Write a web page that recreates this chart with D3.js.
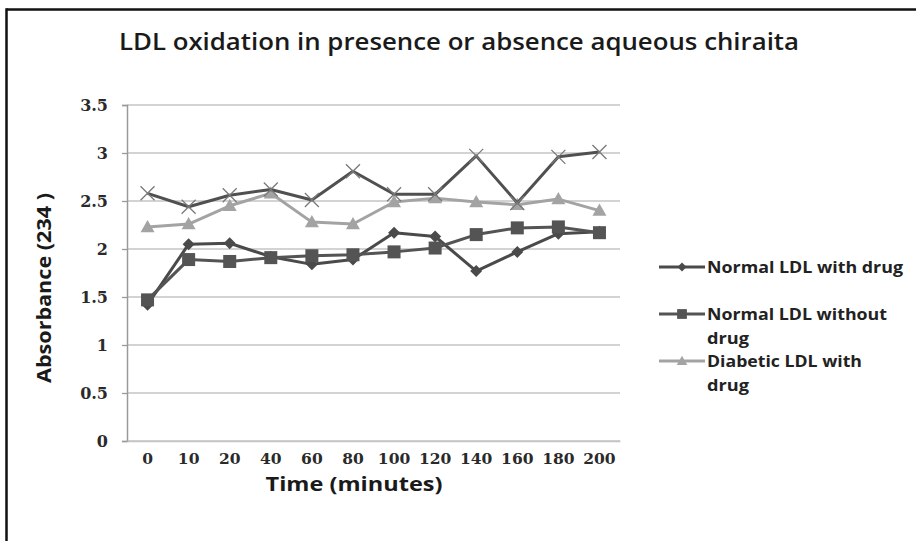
<!DOCTYPE html>
<html>
<head>
<meta charset="utf-8">
<script src="https://cdn.jsdelivr.net/npm/d3@7"></script>
<style>
  html, body { margin: 0; padding: 0; background: #fff; }
  svg { display: block; }
</style>
</head>
<body>
<svg id="chart" width="916" height="541"></svg>
<script>
// Sampling times (minutes) along the x axis
const categories = ["0", "10", "20", "40", "60", "80", "100", "120", "140", "160", "180", "200"];

// Absorbance at 234 nm for each series
const normalWithDrug    = [1.42, 2.05, 2.06, 1.92, 1.84, 1.89, 2.17, 2.13, 1.77, 1.97, 2.16, 2.18];
const normalWithoutDrug = [1.47, 1.89, 1.87, 1.91, 1.93, 1.94, 1.97, 2.01, 2.15, 2.22, 2.23, 2.17];
const diabeticWithDrug  = [2.23, 2.26, 2.45, 2.58, 2.28, 2.26, 2.49, 2.53, 2.49, 2.46, 2.52, 2.40];
const diabeticNoDrug    = [2.58, 2.44, 2.56, 2.62, 2.51, 2.81, 2.57, 2.57, 2.97, 2.48, 2.96, 3.01];

const yTicks = [0, 0.5, 1, 1.5, 2, 2.5, 3, 3.5];

const seriesNames = ["Normal LDL with drug", "Normal LDL without drug", "Diabetic LDL with drug", "Diabetic LDL without drug"];

const series = [
  { name: seriesNames[0], values: normalWithDrug,    color: "#4a4a4a", marker: "diamond",  legend: ["Normal LDL with drug"],       legendW: [196] },
  { name: seriesNames[1], values: normalWithoutDrug, color: "#545454", marker: "square",   legend: ["Normal LDL without", "drug"], legendW: [180, 42] },
  { name: seriesNames[2], values: diabeticWithDrug,  color: "#a3a3a3", marker: "triangle", legend: ["Diabetic LDL with", "drug"],  legendW: [155, 42] },
  { name: seriesNames[3], values: diabeticNoDrug,    color: "#505050", marker: "cross",    legend: null }
];

const svg = d3.select("#chart");
const plot = { left: 127, right: 620, top: 105, bottom: 441 };

const x = d3.scaleBand().domain(categories).range([plot.left, plot.right]);
const y = d3.scaleLinear().domain([0, 3.5]).range([plot.bottom, plot.top]);
const cx = c => x(c) + x.bandwidth() / 2;

const sans = "'Open Sans', 'DejaVu Sans', sans-serif";
const serif = "'DejaVu Serif', serif";

// Frame edges
svg.append("line").attr("x1", 6.5).attr("x2", 916).attr("y1", 9.5).attr("y2", 9.5)
  .attr("stroke", "#111").attr("stroke-width", 2.5);
svg.append("line").attr("x1", 6.5).attr("x2", 6.5).attr("y1", 8.3).attr("y2", 541)
  .attr("stroke", "#111").attr("stroke-width", 2.5);

// Title
svg.append("text")
  .attr("x", 459).attr("y", 50)
  .attr("text-anchor", "middle")
  .attr("font-family", sans)
  .attr("font-size", 23)
  .attr("font-weight", 600)
  .attr("fill", "#1a1a1a")
  .attr("textLength", 680).attr("lengthAdjust", "spacingAndGlyphs")
  .text("LDL oxidation in presence or absence aqueous  chiraita");

// Horizontal gridlines
svg.append("g").selectAll("line").data(yTicks).join("line")
  .attr("x1", plot.left).attr("x2", plot.right)
  .attr("y1", d => y(d)).attr("y2", d => y(d))
  .attr("stroke", "#c4c4c4").attr("stroke-width", 1.6);

// Y axis
const yAxis = svg.append("g")
  .attr("transform", `translate(${plot.left},0)`)
  .call(d3.axisLeft(y).tickValues(yTicks).tickSize(5).tickPadding(14).tickFormat(d3.format("")));
yAxis.select(".domain").attr("stroke", "#9a9a9a").attr("stroke-width", 1.5);
yAxis.selectAll(".tick line").attr("stroke", "#9a9a9a").attr("stroke-width", 1.3);
yAxis.selectAll("text")
  .attr("font-family", serif)
  .attr("font-size", 16)
  .attr("font-weight", "bold")
  .attr("fill", "#2a2a2a");

// X axis labels
const xAxis = svg.append("g")
  .attr("transform", `translate(0,${plot.bottom})`)
  .call(d3.axisBottom(x).tickSize(0).tickPadding(12));
xAxis.select(".domain").attr("stroke", "#c4c4c4").attr("stroke-width", 1.6);
xAxis.selectAll("text")
  .attr("font-family", serif)
  .attr("font-size", 15.5)
  .attr("font-weight", "bold")
  .attr("fill", "#2a2a2a");

// Axis titles
svg.append("text")
  .attr("transform", "translate(51,288) rotate(-90)")
  .attr("text-anchor", "middle")
  .attr("font-family", sans)
  .attr("font-size", 19).attr("font-weight", "bold")
  .attr("fill", "#1a1a1a")
  .attr("textLength", 190).attr("lengthAdjust", "spacingAndGlyphs")
  .text("Absorbance (234 )");

svg.append("text")
  .attr("x", 354).attr("y", 491)
  .attr("text-anchor", "middle")
  .attr("font-family", sans)
  .attr("font-size", 19).attr("font-weight", "bold")
  .attr("fill", "#1a1a1a")
  .attr("textLength", 177).attr("lengthAdjust", "spacingAndGlyphs")
  .text("Time (minutes)");

// Marker shapes
function drawMarker(g, type, px, py, color, scale) {
  const s = scale || 1;
  if (type === "diamond") {
    const r = 6 * s;
    g.append("path").attr("d", `M${px},${py - r}L${px + r},${py}L${px},${py + r}L${px - r},${py}Z`).attr("fill", color);
  } else if (type === "square") {
    const r = 6.5 * s;
    g.append("rect").attr("x", px - r).attr("y", py - r).attr("width", 2 * r).attr("height", 2 * r).attr("fill", color);
  } else if (type === "triangle") {
    const r = 7 * s;
    g.append("path").attr("d", `M${px},${py - r}L${px + r},${py + r * 0.75}L${px - r},${py + r * 0.75}Z`).attr("fill", color);
  } else if (type === "cross") {
    const r = 7 * s;
    g.append("path").attr("d", `M${px - r},${py - r}L${px + r},${py + r}M${px - r},${py + r}L${px + r},${py - r}`)
      .attr("stroke", "#7a7a7a").attr("stroke-width", 1.3).attr("fill", "none");
  }
}

const line = d3.line().x((d, i) => cx(categories[i])).y(d => y(d));

series.forEach(s => {
  const g = svg.append("g");
  g.append("path").datum(s.values)
    .attr("d", line)
    .attr("fill", "none")
    .attr("stroke", s.color)
    .attr("stroke-width", 3)
    .attr("stroke-linejoin", "round");
  s.values.forEach((v, i) => drawMarker(g, s.marker, cx(categories[i]), y(v), s.color));
});

// Legend
const legendRows = [267, 314, 361];
const legend = svg.append("g");
series.filter(s => s.legend).forEach((s, k) => {
  const ly = legendRows[k];
  legend.append("line").attr("x1", 659).attr("x2", 705).attr("y1", ly).attr("y2", ly)
    .attr("stroke", s.color).attr("stroke-width", 3);
  drawMarker(legend, s.marker, 682, ly, s.color, 0.75);
  s.legend.forEach((t, j) => {
    legend.append("text")
      .attr("x", 707).attr("y", ly + 6 + j * 24)
      .attr("font-family", sans)
      .attr("font-size", 15.5).attr("font-weight", "bold")
      .attr("fill", "#222")
      .attr("textLength", s.legendW[j]).attr("lengthAdjust", "spacingAndGlyphs")
      .text(t);
  });
});
</script>
</body>
</html>
